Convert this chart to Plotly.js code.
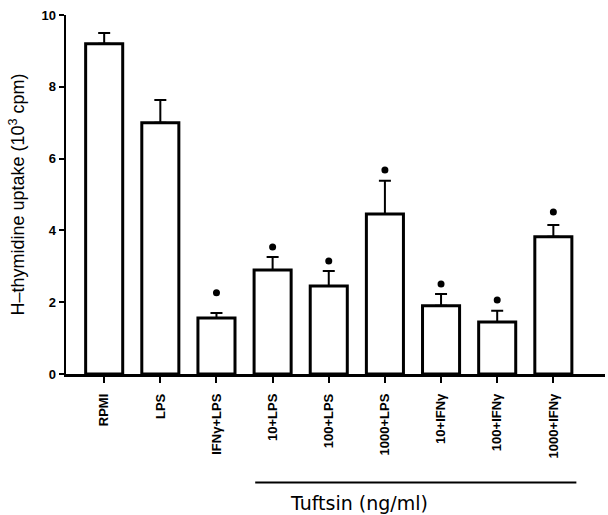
<!DOCTYPE html>
<html><head><meta charset="utf-8">
<script src="https://cdn.plot.ly/plotly-3.0.1.min.js"></script>
<style>body{margin:0;background:#fff}#c{width:608px;height:515px}</style>
</head><body><div id="c"></div>
<script>
const categories = ["RPMI","LPS","IFNγ+LPS","10+LPS","100+LPS","1000+LPS","10+IFNγ","100+IFNγ","1000+IFNγ"];
const means = [9.2, 7.0, 1.56, 2.9, 2.45, 4.46, 1.9, 1.45, 3.82];
const sem = [0.3, 0.63, 0.14, 0.36, 0.42, 0.92, 0.33, 0.31, 0.33];
const starCats = ["IFNγ+LPS","10+LPS","100+LPS","1000+LPS","10+IFNγ","100+IFNγ","1000+IFNγ"];
const starY = [2.26, 3.54, 3.15, 5.68, 2.51, 2.06, 4.51];
const yTicks = [0, 2, 4, 6, 8, 10];

const bars = {
  type: 'bar', x: categories, y: means, width: 0.66,
  marker: {color: '#fff', line: {color: '#000', width: 3}},
  error_y: {type: 'data', symmetric: false, array: sem, arrayminus: sem.map(() => 0), color: '#000', thickness: 2, width: 6},
  hoverinfo: 'none'
};
const stars = {
  type: 'scatter', mode: 'markers', x: starCats, y: starY,
  marker: {color: '#000', size: 7, symbol: 'circle'}, hoverinfo: 'none'
};
const fam = 'Liberation Sans, Arial, sans-serif';
const layout = {
  width: 608, height: 515,
  margin: {l: 66, r: 3, t: 15, b: 141},
  paper_bgcolor: '#fff', plot_bgcolor: '#fff',
  showlegend: false,
  xaxis: {
    type: 'category', categoryorder: 'array', categoryarray: categories,
    range: [-0.68, 8.92],
    showline: true, linecolor: '#000', linewidth: 2.5,
    ticks: 'outside', ticklen: 6, tickwidth: 2, tickcolor: '#000',
    tickangle: -90, ticklabelstandoff: 6,
    tickfont: {family: fam, size: 13, color: '#000', weight: 'bold'},
    showgrid: false, zeroline: false
  },
  yaxis: {
    range: [0, 10], tickvals: yTicks, ticktext: yTicks.map(String),
    showline: true, linecolor: '#000', linewidth: 2.5,
    ticks: 'outside', ticklen: 5, tickwidth: 2, tickcolor: '#000',
    tickfont: {family: fam, size: 13, color: '#000', weight: 'bold'},
    showgrid: false, zeroline: false,
    title: {text: 'H–thymidine uptake (10<sup>3</sup> cpm)', standoff: 12,
      font: {family: fam, size: 18, color: '#000'}}
  },
  shapes: [{type: 'line', xref: 'x', yref: 'paper', x0: 2.69, x1: 8.41, y0: -0.302, y1: -0.302,
    line: {color: '#000', width: 2}}],
  annotations: [{text: 'Tuftsin (ng/ml)', xref: 'x', yref: 'paper', x: 4.53, y: -0.36,
    showarrow: false, yanchor: 'middle', xanchor: 'center',
    font: {family: 'DejaVu Sans, sans-serif', size: 19, color: '#000'}}]
};
Plotly.newPlot('c', [bars, stars], layout, {displayModeBar: false, staticPlot: true});
</script></body></html>
